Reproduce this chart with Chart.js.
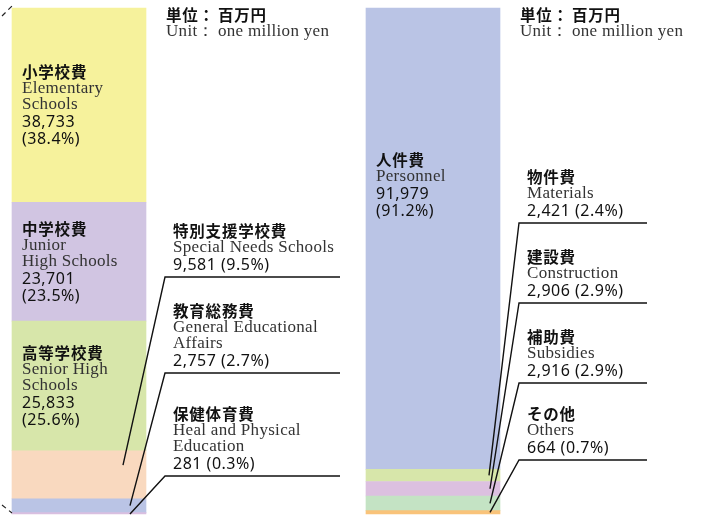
<!DOCTYPE html>
<html>
<head>
<meta charset="utf-8">
<script src="https://cdn.jsdelivr.net/npm/chart.js@4"></script>
<style>
  body { margin: 0; background: #fff; }
  #wrap { width: 704px; height: 518px; position: relative; }
</style>
</head>
<body>
<div id="wrap"><canvas id="chart"></canvas></div>
<script>
// two stacked bars: spending by purpose (left) and by nature (right)
const sides = ["目的別", "性質別"];

const purposeJa = ["小学校費", "中学校費", "高等学校費", "特別支援学校費", "教育総務費", "保健体育費"];
const purposeEn = ["Elementary\nSchools", "Junior\nHigh Schools", "Senior High\nSchools", "Special Needs Schools", "General Educational\nAffairs", "Heal and Physical\nEducation"];
const purposeValues = [38733, 23701, 25833, 9581, 2757, 281];
const purposeShares = ["38.4%", "23.5%", "25.6%", "9.5%", "2.7%", "0.3%"];

const natureJa = ["人件費", "物件費", "建設費", "補助費", "その他"];
const natureEn = ["Personnel", "Materials", "Construction", "Subsidies", "Others"];
const natureValues = [91979, 2421, 2906, 2916, 664];
const natureShares = ["91.2%", "2.4%", "2.9%", "2.9%", "0.7%"];

const unitJa = "百万円";
const unitEn = "one million yen";

const purposeColors = ["#f6f29c", "#d1c5e2", "#d7e6aa", "#f9d9bf", "#bac4e5", "#d9bfe0"];
const natureColors = ["#bac4e5", "#d7e6aa", "#dcc0e0", "#c4e3c4", "#f9c37a"];

const JA_FONT = 'bold 15.5px "Noto Sans CJK JP"';
const EN_FONT = '17px "Liberation Serif"';
const NUM_FONT = '16px "Noto Sans"';

// chart.js stacks from the first dataset upwards, so bottom segments go first
const datasets = [];
for (let i = purposeValues.length - 1; i >= 0; i--) {
  datasets.push({
    label: purposeJa[i],
    data: [purposeValues[i], null],
    backgroundColor: purposeColors[i],
    side: 0, idx: i
  });
}
for (let i = natureValues.length - 1; i >= 0; i--) {
  datasets.push({
    label: natureJa[i],
    data: [null, natureValues[i]],
    backgroundColor: natureColors[i],
    side: 1, idx: i
  });
}
const total = Math.max(
  purposeValues.reduce((a, b) => a + b, 0),
  natureValues.reduce((a, b) => a + b, 0)
);

const fmt = (v) => v.toLocaleString("en-US");

function findBar(chart, side, idx) {
  for (let d = 0; d < chart.data.datasets.length; d++) {
    const ds = chart.data.datasets[d];
    if (ds.side === side && ds.idx === idx) return chart.getDatasetMeta(d).data[side];
  }
  return null;
}

function drawText(ctx, text, x, y, font, color, spacing) {
  ctx.font = font;
  ctx.fillStyle = color;
  ctx.letterSpacing = spacing || "0px";
  ctx.fillText(text, x, y);
}

// lines of a label block with the gap to the line before it
function blockLines(ja, en, value, share, inside) {
  const lines = [{ t: ja, f: JA_FONT, c: "#111", s: "0.8px", gap: 0 }];
  en.split("\n").forEach((t, k) => {
    lines.push({ t: t, f: EN_FONT, c: "#333", s: "0.3px", gap: k === 0 ? 15 : 16 });
  });
  if (inside) {
    lines.push({ t: fmt(value), f: NUM_FONT, c: "#111", s: "0.5px", gap: 18 });
    lines.push({ t: "(" + share + ")", f: NUM_FONT, c: "#111", s: "0.5px", gap: 17 });
  } else {
    lines.push({ t: fmt(value) + " (" + share + ")", f: NUM_FONT, c: "#111", s: "0.5px", gap: 18 });
  }
  return lines;
}

function drawBlock(ctx, lines, x, firstBase) {
  let y = firstBase;
  lines.forEach((l) => {
    y += l.gap;
    drawText(ctx, l.t, x, y, l.f, l.c, l.s);
  });
}

function blockHeight(lines) {
  return lines.reduce((a, l) => a + l.gap, 0);
}

const labelPlugin = {
  id: "labels",
  afterDatasetsDraw(chart) {
    const ctx = chart.ctx;
    ctx.save();
    ctx.textAlign = "left";
    ctx.textBaseline = "alphabetic";

    // inside labels: purpose 0..2, nature 0
    const inside = [
      { side: 0, idx: 0, shift: 0 },
      { side: 0, idx: 1, shift: 0 },
      { side: 0, idx: 2, shift: 0 },
      { side: 1, idx: 0, shift: -54 }
    ];
    inside.forEach((o) => {
      const bar = findBar(chart, o.side, o.idx);
      const ja = o.side ? natureJa : purposeJa;
      const en = o.side ? natureEn : purposeEn;
      const vals = o.side ? natureValues : purposeValues;
      const sh = o.side ? natureShares : purposeShares;
      const lines = blockLines(ja[o.idx], en[o.idx], vals[o.idx], sh[o.idx], true);
      const mid = (bar.y + bar.base) / 2;
      const first = mid - blockHeight(lines) / 2 + 6 + o.shift;
      drawBlock(ctx, lines, bar.x - bar.width / 2 + 10, first);
    });

    // outside labels with leader lines
    const outside = [
      { side: 0, idx: 3, lineY: 277, t: 0.3, dx: 44 },
      { side: 0, idx: 4, lineY: 373, t: 0.5, dx: 51 },
      { side: 0, idx: 5, lineY: 476, t: 1.0, dx: 51 },
      { side: 1, idx: 1, lineY: 223, t: 0.5, dx: 56 },
      { side: 1, idx: 2, lineY: 303, t: 0.5, dx: 57 },
      { side: 1, idx: 3, lineY: 383, t: 0.5, dx: 57 },
      { side: 1, idx: 4, lineY: 460, t: 0.5, dx: 57 }
    ];
    outside.forEach((o) => {
      const bar = findBar(chart, o.side, o.idx);
      const ja = o.side ? natureJa : purposeJa;
      const en = o.side ? natureEn : purposeEn;
      const vals = o.side ? natureValues : purposeValues;
      const sh = o.side ? natureShares : purposeShares;
      const lines = blockLines(ja[o.idx], en[o.idx], vals[o.idx], sh[o.idx], false);
      const textX = bar.x + 94;
      const lineX0 = bar.x + 86;
      const lineX1 = o.side ? bar.x + 214 : bar.x + 261;
      const last = o.lineY - 7;
      drawBlock(ctx, lines, textX, last - blockHeight(lines));

      const endY = bar.y + (bar.base - bar.y) * o.t;
      ctx.strokeStyle = "#111";
      ctx.lineWidth = 1.4;
      ctx.setLineDash([]);
      ctx.beginPath();
      ctx.moveTo(lineX1, o.lineY);
      ctx.lineTo(lineX0, o.lineY);
      ctx.lineTo(bar.x + o.dx, endY);
      ctx.stroke();
    });

    // unit notes
    [0, 1].forEach((s) => {
      const top = findBar(chart, s, 0);
      const x = top.x + 87;
      drawText(ctx, "単位：", x, 21, JA_FONT, "#111", "0.8px");
      drawText(ctx, unitJa, x + 52, 21, JA_FONT, "#111", "0.8px");
      drawText(ctx, "Unit：", x, 36, EN_FONT, "#333", "0.3px");
      drawText(ctx, unitEn, x + 52, 36, EN_FONT, "#333", "0.3px");
    });

    // dashed connector stubs at the left bar corners
    const lb = findBar(chart, 0, 0);
    const lbot = findBar(chart, 0, 5);
    const lx = lb.x - lb.width / 2;
    ctx.strokeStyle = "#222";
    ctx.lineWidth = 1.2;
    ctx.setLineDash([5, 4]);
    ctx.beginPath();
    ctx.moveTo(lx - 10, lb.y + 8);
    ctx.lineTo(lx, lb.y - 2);
    ctx.moveTo(lx - 10, lbot.base - 9);
    ctx.lineTo(lx, lbot.base - 1);
    ctx.stroke();
    ctx.restore();
  }
};

new Chart(document.getElementById("chart"), {
  type: "bar",
  data: { labels: sides, datasets: datasets },
  options: {
    responsive: true,
    maintainAspectRatio: false,
    animation: false,
    layout: { padding: { left: 79, right: 271, top: 8, bottom: 4 } },
    datasets: { bar: { barThickness: 134, borderWidth: 0, clip: false, skipNull: true } },
    plugins: { legend: { display: false }, tooltip: { enabled: false } },
    scales: {
      x: { stacked: true, offset: false, display: false },
      y: { stacked: true, min: 0, max: total, display: false }
    }
  },
  plugins: [labelPlugin]
});
</script>
</body>
</html>
